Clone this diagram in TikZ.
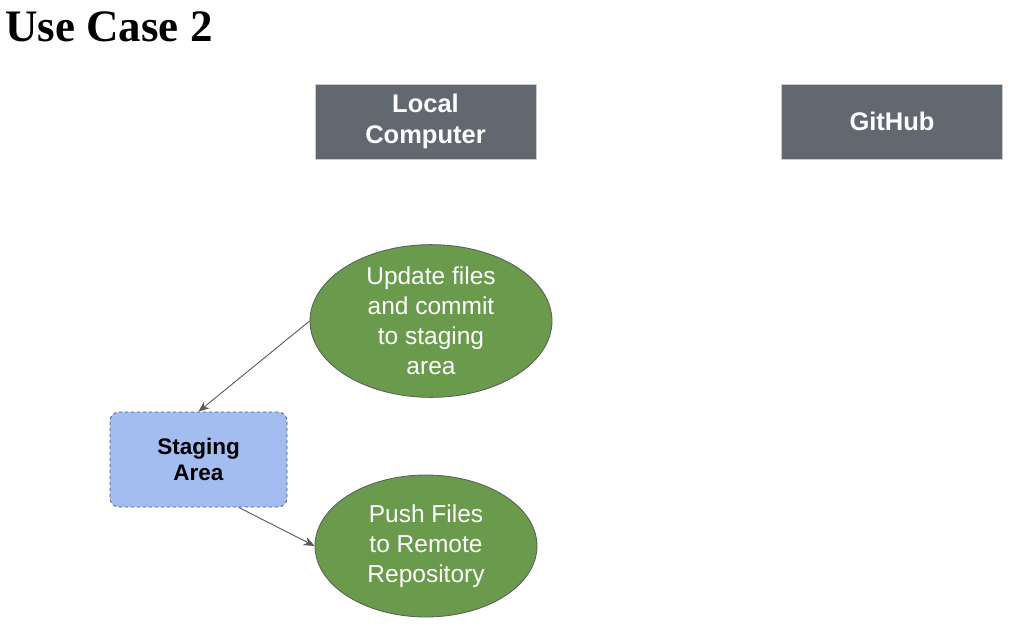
\documentclass[tikz,border=0pt]{standalone}
\usepackage{fontspec}
\setmainfont{Liberation Sans}
\newfontfamily\titlefont{Liberation Serif}
\usetikzlibrary{shapes.geometric,arrows.meta}
\definecolor{hdrgray}{HTML}{626870}
\definecolor{leafgreen}{HTML}{6A9A4C}
\definecolor{stageblue}{HTML}{A4BDF0}
\definecolor{linegray}{HTML}{5A5A5A}
\tikzset{
  header/.style={draw=gray!40, fill=hdrgray, text=white, font=\fontsize{25.5}{31}\selectfont\bfseries,
    minimum width=221pt, minimum height=75pt, align=center, inner sep=0pt},
  oval/.style={ellipse, draw=linegray, line width=0.8pt, fill=leafgreen, text=white,
    font=\fontsize{24.5}{30}\selectfont, align=center, inner sep=0pt},
  stagebox/.style={draw=linegray, dashed, line width=0.8pt, fill=stageblue, rounded corners=9pt,
    minimum width=177pt, minimum height=95pt, align=center, font=\fontsize{22.5}{26.5}\selectfont\bfseries, inner sep=0pt},
  conn/.style={draw=linegray, line width=0.9pt, -{Stealth[length=11pt,width=9pt]}}
}
\begin{document}
\begin{tikzpicture}[x=1pt,y=-1pt]
\useasboundingbox[fill=white] (0,0) rectangle (1020,626);
\node[anchor=base west, inner sep=0pt, font=\titlefont\fontsize{45}{50}\selectfont\bfseries] (title) at (5,42) {Use Case 2};
\node[header] (local) at (425.5,121.5) {Local\\Computer};
\node[header] (github) at (892,121.5) {GitHub};
\node[oval, minimum width=242pt, minimum height=138pt] (upd) at (431,321) {Update files\\and commit\\to staging\\area};
\node[stagebox] (stg) at (198.5,459.5) {Staging\\Area};
\node[oval, minimum width=222pt, minimum height=142pt] (push) at (426,546) {Push Files\\to Remote\\Repository};
\draw[conn] (upd.west) -- (stg.north);
\draw[conn] (stg.-50) -- (push.west);
\end{tikzpicture}
\end{document}
